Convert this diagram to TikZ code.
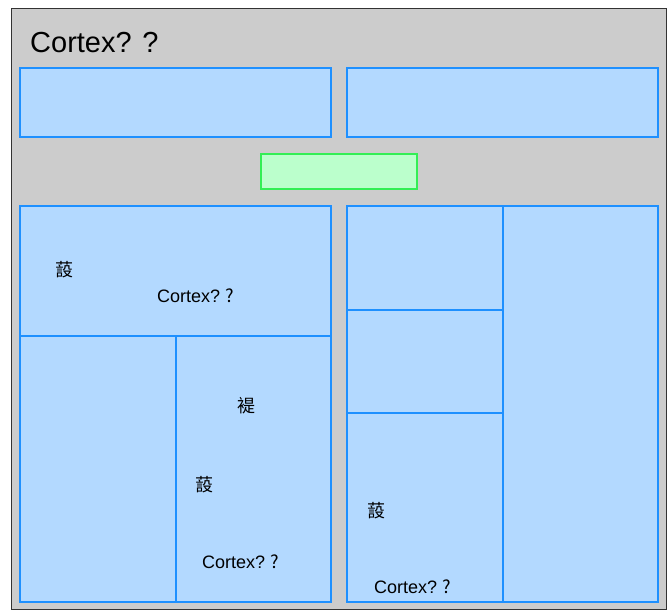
\documentclass[tikz,border=0pt]{standalone}
\usepackage{fontspec}
\setmainfont{Liberation Sans}
\newfontfamily\cjk{Noto Sans CJK SC}
\usepackage{tikz}
\usetikzlibrary{positioning}
\definecolor{panelfill}{HTML}{B3D9FF}
\definecolor{paneldraw}{HTML}{1E90FF}
\definecolor{greyback}{HTML}{CCCCCC}
\definecolor{greenfill}{HTML}{BBFFCC}
\definecolor{greendraw}{HTML}{33EE55}
\tikzset{panel/.style={fill=panelfill,draw=paneldraw,line width=1.3pt}}
\tikzset{label/.style={inner sep=0pt,font=\fontsize{18}{20}\selectfont}}
\newcommand{\Ctx}{Cortex?\hspace{5pt}{\cjk ?}}
\newcommand{\Sh}{{\cjk 蔎}}

\begin{document}
\begin{tikzpicture}[x=1pt,y=-1pt]
\useasboundingbox (0,0) rectangle (672,612);
% background
\draw[fill=greyback,draw=black!80,line width=0.8pt] (11,8) rectangle (666,609);
\node (title) [anchor=base west,inner sep=0pt,font=\fontsize{29}{32}\selectfont] at (30,53) {Cortex? ?};
%
% top row
\draw[panel] (20,68) rectangle (331,137);
\draw[panel] (347,68) rectangle (658,137);
\draw[fill=greenfill,draw=greendraw,line width=1.3pt] (261,154) rectangle (417,189);
%
% left block
\draw[panel] (20,206) rectangle (331,336);
\draw[panel] (20,336) rectangle (176,602);
\draw[panel] (176,336) rectangle (331,602);
\node (l1) [label] at (64,270) {\Sh};
\node (l2) [label,anchor=west] at (157,296) {\Ctx};
\node (l3) [label] at (246,406) {{\cjk 褆}};
\node (l4) [label] at (204,485) {\Sh};
\node (l5) [label,anchor=west] at (202,562) {\Ctx};
%
% right block
\draw[panel] (347,206) rectangle (503,310);
\draw[panel] (347,310) rectangle (503,413);
\draw[panel] (347,413) rectangle (503,602);
\draw[panel] (503,206) rectangle (658,602);
\node (r1) [label] at (376,511) {\Sh};
\node (r2) [label,anchor=west] at (374,587) {\Ctx};
\end{tikzpicture}
\end{document}
